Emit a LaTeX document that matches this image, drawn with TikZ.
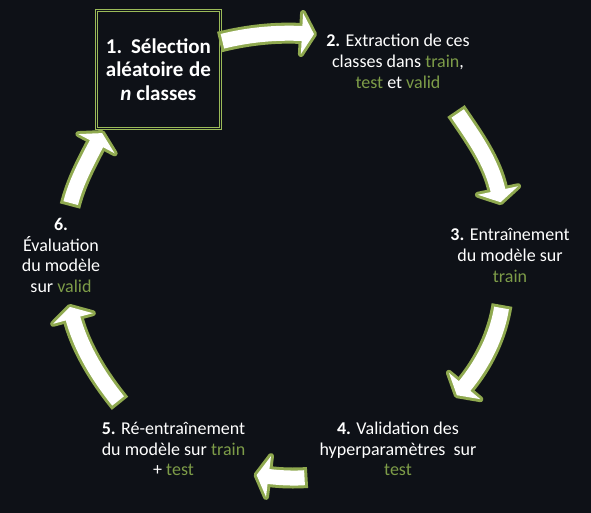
\documentclass[tikz,border=0pt]{standalone}
\usepackage{fontspec}
\setmainfont{Carlito}
\usepackage{xcolor}

\definecolor{bgdark}{HTML}{0E1117}
\definecolor{rimgreen}{HTML}{8FA94F}
\definecolor{boxgreen}{HTML}{9BBB59}
\definecolor{wordgreen}{HTML}{7D9C48}
\newcommand{\grn}[1]{\textcolor{wordgreen}{#1}}

\begin{document}
\begin{tikzpicture}[x=1pt, y=-1pt,
	steplabel/.style={text=white, align=center, inner sep=0pt, font=\fontsize{18}{20.6}\selectfont},
	selbox/.style={draw=boxgreen, line width=1pt, double=bgdark, double distance=1.4pt, minimum width=124.3pt, minimum height=118.5pt, inner sep=0pt, text=white, align=center, font=\fontsize{21}{23.8}\selectfont\bfseries},
	rim/.style={draw=rimgreen, line width=21pt},
	rimhead/.style={fill=rimgreen, draw=rimgreen, line width=6pt, line join=round},
	core/.style={draw=white, line width=15pt, shorten <=3pt, shorten >=-2pt},
	corehead/.style={fill=white}]

	% Background and frame:
	\fill[bgdark] (0,0) rectangle (591,513);
	\useasboundingbox (0,0) rectangle (591,513);

	% Nodes:
	\node[selbox] (sel) at (158.4,69.5){\makebox[105pt][s]{1.\ \ Sélection}\\ \makebox[105pt][s]{aléatoire de}\\ \textit{n} classes};
	\node[steplabel] (extr) at (398,61.3){\textbf{2.} Extraction de ces\\ classes dans \grn{train},\\ \grn{test} et \grn{valid}};
	\node[steplabel] (fit) at (510,255.5){\textbf{3.} Entraînement\\ du modèle sur\\ \grn{train}};
	\node[steplabel] (tune) at (398,449){\textbf{4.} Validation des\\ hyperparamètres~ sur\\ \grn{test}};
	\node[steplabel] (retrain) at (173.5,449.3){\textbf{5.} Ré-entraînement\\ du modèle sur \grn{train}\\ + \grn{test}};
	\node[steplabel] (eval) at (61,255.5){\textbf{6.}\\ Évaluation\\ du modèle\\ sur \grn{valid}};

	% Block arrows: tail x/y/angle, head base x/y/angle, control length
	\foreach \tx/\ty/\ta/\bx/\by/\ba/\c in {219.5/42/-14/302/33.5/3/28, 456/111/56/498/190.5/78/30, 502/305/99/464.6/386/130/30, 307.5/477.5/176/268.5/476.5/187/13, 120/403.3/231/73/318.5/255/32, 70/206/284/96.5/143.7/298/23}{
		\draw[rim] (\tx,\ty) .. controls +(\ta:\c) and +(\ba+180:\c) .. (\bx,\by);
		\filldraw[rimhead] (\bx,\by) +(\ba+90:20.5) -- +(\ba:12) -- +(\ba-90:20.5) -- cycle;
		\draw[core] (\tx,\ty) .. controls +(\ta:\c) and +(\ba+180:\c) .. (\bx,\by);
		\fill[corehead] (\bx,\by) +(\ba+90:20.5) -- +(\ba:12) -- +(\ba-90:20.5) -- cycle;
	}

\end{tikzpicture}
\end{document}
